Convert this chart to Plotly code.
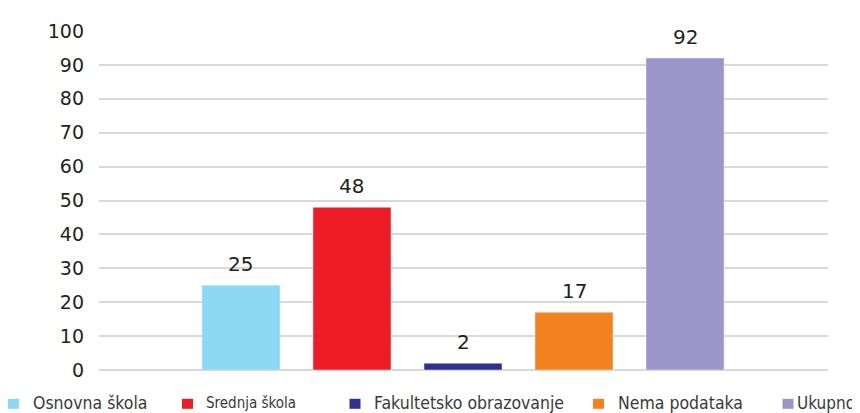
import plotly.graph_objects as go

categories = ["Osnovna škola", "Srednja škola", "Fakultetsko obrazovanje", "Nema podataka", "Ukupno"]
values = [25, 48, 2, 17, 92]
colors = ["#8dd8f5", "#ee1c25", "#2e3192", "#f58220", "#9c95c9"]
y_ticks = [0, 10, 20, 30, 40, 50, 60, 70, 80, 90, 100]

# layout helpers (pixels, in screenshot coordinates; page body adds an 8px offset)
OFF = 8
W, H = 860, 413
ML, MR, MT, MB = 99 - OFF, 32 + OFF, 24 - OFF, 43 + OFF
PW, PH = W - ML - MR, H - MT - MB
legend_marker_px = [13.5, 187.5, 355, 598.5, 788]
legend_text_px = [32, 205, 373, 617, 796]
legend_font_sizes = [17.5, 15, 17.5, 17.5, 17]
legend_y_px = 403.5

fig = go.Figure()
for i, (c, v, col) in enumerate(zip(categories, values, colors)):
    fig.add_trace(go.Bar(x=[i], y=[v], name=c, marker_color=col, width=0.703,
                         showlegend=False, hoverinfo="name+y"))
    fig.add_annotation(x=i, y=v, text=str(v), showarrow=False, yanchor="middle",
                       yshift=21, font=dict(family="DejaVu Sans", size=20, color="#231f20"))

def px_to_paper_x(px):
    return (px - OFF - ML) / PW

def px_to_paper_y(py):
    return (H - MB - (py - OFF)) / PH

for i, c in enumerate(categories):
    fig.add_shape(type="rect", xref="paper", yref="paper",
                  xsizemode="pixel", ysizemode="pixel",
                  xanchor=px_to_paper_x(legend_marker_px[i]), yanchor=px_to_paper_y(legend_y_px + 1),
                  x0=-5.5, x1=5.5, y0=-5, y1=5,
                  fillcolor=colors[i], line_width=0)
    fig.add_annotation(xref="paper", yref="paper", x=px_to_paper_x(legend_text_px[i]),
                       y=px_to_paper_y(legend_y_px), xanchor="left", yanchor="middle",
                       text=f'<span style="font-stretch:condensed">{c}</span>',
                       showarrow=False, xshift=-1,
                       font=dict(family="DejaVu Sans Condensed, Liberation Sans Narrow, DejaVu Sans",
                                 size=legend_font_sizes[i], color="#3a3a3a"))

fig.update_layout(
    width=W, height=H,
    margin=dict(l=ML, r=MR, t=MT, b=MB, pad=0),
    plot_bgcolor="white", paper_bgcolor="white",
    barmode="overlay",
    xaxis=dict(range=[-1.279, 5.288], showticklabels=False, showgrid=False,
               zeroline=False, fixedrange=True),
    yaxis=dict(range=[0, 100], tickvals=y_ticks, showgrid=True, gridcolor="#d9d9d9",
               gridwidth=1.5, zeroline=True, zerolinecolor="#d9d9d9", zerolinewidth=2,
               ticklabelstandoff=14,
               tickfont=dict(family="DejaVu Sans", size=19, color="#231f20")),
)

fig.write_html("out.html")
